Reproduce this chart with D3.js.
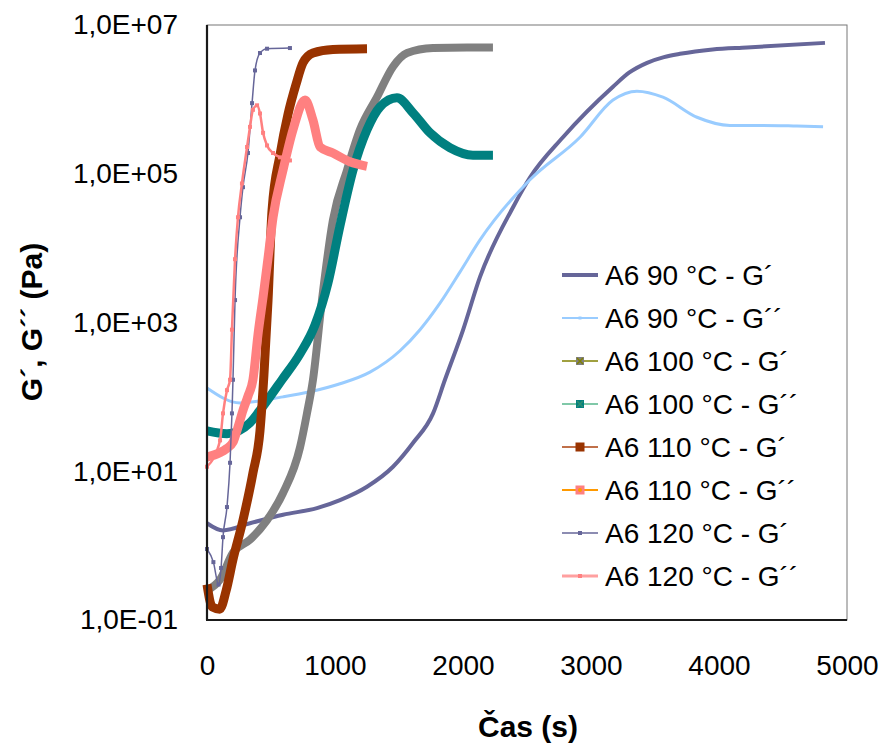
<!DOCTYPE html>
<html>
<head>
<meta charset="utf-8">
<script src="https://cdn.jsdelivr.net/npm/d3@7"></script>
<style>
  body { margin: 0; background: #fff; }
  svg text { font-family: Arial, "Liberation Sans", sans-serif; fill: #000; }
</style>
</head>
<body>
<svg id="chart" width="886" height="747"></svg>
<script>
// series names (legend order = draw order)
var seriesNames = ["A6 90 °C - G´", "A6 90 °C - G´´", "A6 100 °C - G´", "A6 100 °C - G´´",
  "A6 110 °C - G´", "A6 110 °C - G´´", "A6 120 °C - G´", "A6 120 °C - G´´"];

// time (s) and modulus (Pa)
var t90G1 = [0, 125, 336, 594, 859, 1039, 1250, 1453, 1609, 1766, 1859, 2000, 2133, 2391, 2523, 2781, 3172, 3300, 3438, 3570, 3695, 3950, 4219, 4828];
var v90G1 = [2.0, 1.6, 2.0, 2.6, 3.2, 4.1, 6.2, 11.5, 24, 60, 170, 790, 4100, 35500, 89000, 310000, 1.48e6, 2.3e6, 3.1e6, 3.7e6, 4.1e6, 4.7e6, 5.0e6, 5.75e6];

var t90G2 = [0, 258, 594, 805, 1039, 1273, 1508, 1664, 1820, 1977, 2133, 2523, 2914, 3172, 3359, 3562, 3828, 4086, 4344, 4609, 4813];
var v90G2 = [132, 83, 100, 117, 150, 215, 417, 800, 1820, 4800, 12900, 83000, 310000, 980000, 1.29e6, 1.07e6, 575000, 447000, 447000, 437000, 427000];

var t100G1 = [0, 102, 203, 336, 469, 594, 727, 781, 828, 898, 984, 1094, 1195, 1328, 1453, 1563, 1766, 2031, 2234];
var v100G1 = [0.25, 0.35, 0.8, 1.2, 2.2, 5.1, 21, 60, 170, 2000, 24000, 112000, 390000, 1.07e6, 2.75e6, 4.2e6, 4.9e6, 5.0e6, 5.0e6];

var t100G2 = [0, 156, 336, 414, 586, 727, 844, 945, 1039, 1141, 1250, 1352, 1484, 1609, 1742, 1898, 2078, 2234];
var v100G2 = [35, 32, 45, 66, 170, 380, 930, 3400, 20000, 112000, 390000, 794000, 1.05e6, 660000, 355000, 224000, 178000, 178000];

var t110G1 = [0, 40, 100, 150, 203, 281, 359, 414, 445, 477, 508, 570, 633, 695, 750, 828, 984, 1250];
var v110G1 = [0.3, 0.15, 0.14, 0.25, 0.65, 2.2, 9.5, 35, 200, 2000, 32000, 178000, 630000, 1.58e6, 3.1e6, 4.2e6, 4.7e6, 4.8e6];

var t110G2 = [0, 100, 150, 203, 240, 281, 320, 359, 398, 438, 477, 516, 594, 672, 766, 828, 883, 984, 1117, 1250];
var v110G2 = [15.5, 17.8, 20, 24.5, 38, 66, 102, 170, 680, 2200, 7400, 26000, 112000, 390000, 980000, 525000, 229000, 190000, 145000, 126000];

var t120G1 = [0, 50, 90, 110, 125, 156, 180, 195, 203, 219, 258, 281, 320, 352, 375, 414, 469, 648];
var v120G1 = [0.9, 0.6, 0.3, 0.5, 1.3, 3.3, 13, 60, 170, 2000, 26000, 66000, 190000, 890000, 2.45e6, 4.2e6, 4.8e6, 4.9e6];

var t120G2 = [0, 102, 125, 156, 180, 195, 219, 242, 273, 313, 336, 359, 391, 414, 438, 469, 516, 570, 648];
var v120G2 = [11.5, 26, 60, 123, 170, 800, 7100, 26000, 74000, 229000, 427000, 724000, 832000, 646000, 355000, 240000, 190000, 166000, 151000];

var xTicks = [0, 1000, 2000, 3000, 4000, 5000];
var yTicks = [1e-1, 1e1, 1e3, 1e5, 1e7];

var times = [t90G1, t90G2, t100G1, t100G2, t110G1, t110G2, t120G1, t120G2];
var values = [v90G1, v90G2, v100G1, v100G2, v110G1, v110G2, v120G1, v120G2];

// look of each series: curve colour/width, legend line and marker
var styles = [
  { stroke: "#666699", width: 4, legLine: "#666699", legWidth: 4, mark: "#666699", size: 3 },
  { stroke: "#99CCFF", width: 3, legLine: "#99CCFF", legWidth: 2, mark: "#99CCFF", size: 3 },
  { stroke: "#808080", width: 8, legLine: "#808000", legWidth: 1.5, mark: "#808080", size: 8, cross: "#808000" },
  { stroke: "#008080", width: 9, legLine: "#80C8A8", legWidth: 2, mark: "#008080", size: 8, cross: "#2f8f6f" },
  { stroke: "#993300", width: 9, legLine: "#C0704A", legWidth: 2, mark: "#993300", size: 9 },
  { stroke: "#FF8080", width: 9, legLine: "#FF9900", legWidth: 2, mark: "#FF8080", size: 9, dot: "#FF9900" },
  { stroke: "#666699", width: 1.5, legLine: "#666699", legWidth: 1.5, mark: "#666699", size: 4, dots: true },
  { stroke: "#FF8080", width: 2.5, legLine: "#FFA0A0", legWidth: 3, mark: "#FF8080", size: 4, dots: true }
];

var margin = { top: 25, right: 39, bottom: 127, left: 207 },
  width = 886 - margin.left - margin.right,
  height = 747 - margin.top - margin.bottom;

var svg = d3.select("#chart");
var g = svg.append("g")
  .attr("transform", "translate(" + margin.left + "," + margin.top + ")");

var x = d3.scaleLinear().domain([0, 5000]).range([0, width]);
var y = d3.scaleLog().domain([1e-1, 1e7]).range([height, 0]);

function sciLabel(d) {
  var e = Math.round(Math.log10(d));
  var s = Math.abs(e) < 10 ? "0" + Math.abs(e) : "" + Math.abs(e);
  return "1,0E" + (e < 0 ? "-" : "+") + s;
}

// plot area frame (thin)
g.append("rect")
  .attr("x", 0).attr("y", 0)
  .attr("width", width).attr("height", height)
  .attr("fill", "none")
  .attr("stroke", "#777")
  .attr("stroke-width", 1);

// curves
var line = d3.line()
  .x(function (d) { return x(d[0]); })
  .y(function (d) { return y(d[1]); })
  .curve(d3.curveMonotoneX);

seriesNames.forEach(function (name, i) {
  var s = styles[i];
  var pts = times[i].map(function (t, j) { return [t, values[i][j]]; });
  g.append("path")
    .datum(pts)
    .attr("class", "series")
    .attr("fill", "none")
    .attr("stroke", s.stroke)
    .attr("stroke-width", s.width)
    .attr("stroke-linejoin", "round")
    .attr("d", line);
  if (s.dots) {
    g.append("g").selectAll("rect")
      .data(pts)
      .enter().append("rect")
      .attr("x", function (d) { return x(d[0]) - s.size / 2; })
      .attr("y", function (d) { return y(d[1]) - s.size / 2; })
      .attr("width", s.size).attr("height", s.size)
      .attr("fill", s.mark);
  }
});

// axes
var xAxis = g.append("g")
  .attr("transform", "translate(0," + height + ")")
  .call(d3.axisBottom(x).tickValues(xTicks).tickSize(0).tickPadding(35).tickFormat(d3.format("d")));
var yAxis = g.append("g")
  .call(d3.axisLeft(y).tickValues(yTicks).tickSize(0).tickPadding(29).tickFormat(sciLabel));

[xAxis, yAxis].forEach(function (a) {
  a.select(".domain").remove();
  a.selectAll("text")
    .style("font-size", "28px")
    .style("font-family", "Arial, 'Liberation Sans', sans-serif")
    .attr("fill", "#000");
});

g.append("line")
  .attr("x1", 0).attr("x2", 0).attr("y1", 0).attr("y2", height)
  .attr("stroke", "#1a1a1a").attr("stroke-width", 2.2);
g.append("line")
  .attr("x1", -1).attr("x2", width).attr("y1", height).attr("y2", height)
  .attr("stroke", "#1a1a1a").attr("stroke-width", 2.2);

// axis titles
svg.append("text")
  .attr("transform", "translate(42," + 322 + ") rotate(-90)")
  .attr("text-anchor", "middle")
  .style("font-size", "30px")
  .style("font-weight", "bold")
  .text("G´, G´´ (Pa)");

svg.append("text")
  .attr("x", 528).attr("y", 737)
  .attr("text-anchor", "middle")
  .style("font-size", "30px")
  .style("font-weight", "bold")
  .text("Čas (s)");

// legend
var legend = svg.append("g").attr("transform", "translate(562,275)");
seriesNames.forEach(function (name, i) {
  var s = styles[i];
  var row = legend.append("g").attr("transform", "translate(0," + (i * 43) + ")");
  row.append("line")
    .attr("x1", 0).attr("x2", 36).attr("y1", 0).attr("y2", 0)
    .attr("stroke", s.legLine).attr("stroke-width", s.legWidth);
  row.append("rect")
    .attr("x", 18 - s.size / 2).attr("y", -s.size / 2)
    .attr("width", s.size).attr("height", s.size)
    .attr("fill", s.mark);
  if (s.cross) {
    row.append("path")
      .attr("d", "M15,-3L21,3M15,3L21,-3")
      .attr("stroke", s.cross).attr("stroke-width", 1.5);
  }
  if (s.dot) {
    row.append("circle").attr("cx", 18).attr("cy", 0).attr("r", 2).attr("fill", s.dot);
  }
  row.append("text")
    .attr("x", 43).attr("y", 10)
    .style("font-size", "28px")
    .text(name);
});
</script>
</body>
</html>
